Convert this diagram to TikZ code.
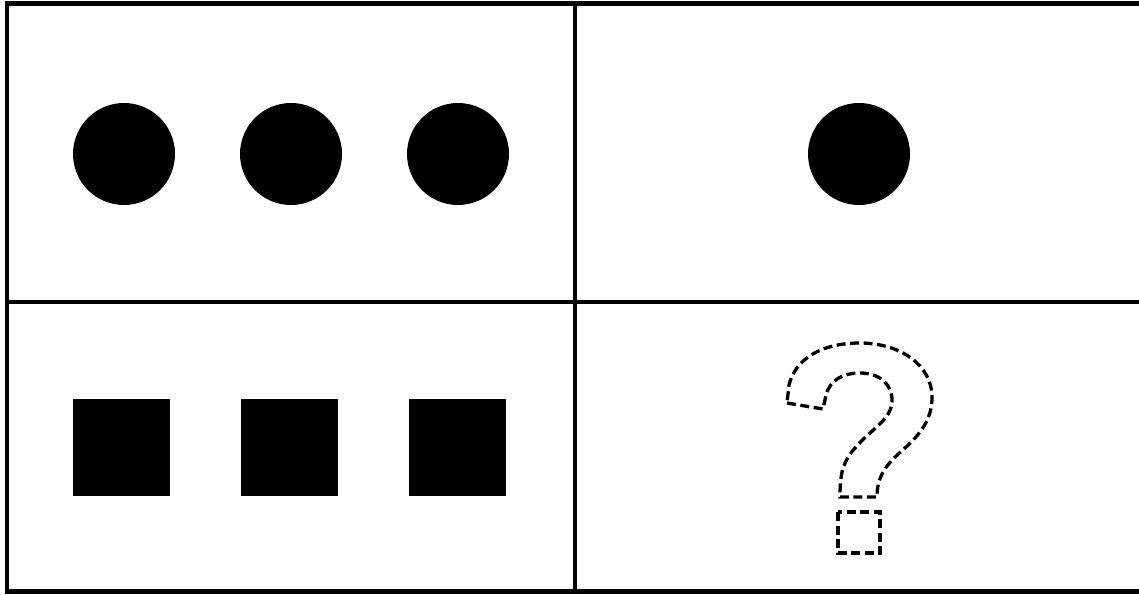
\documentclass[tikz,border=0pt]{standalone}
\begin{document}
\begin{tikzpicture}[x=1pt,y=-1pt,
  frame/.style={line width=4.8pt,black},
  dot/.style={circle,fill=black,minimum size=102pt,inner sep=0pt},
  sq/.style={rectangle,fill=black,minimum size=97pt,inner sep=0pt},
  qline/.style={line width=3.3pt,dash pattern=on 9pt off 4.5pt,black,line join=miter}]
\useasboundingbox (0,0) rectangle (1139,594);
\fill[white] (0,0) rectangle (1139,594);
% frame
\coordinate (tl) at (7,3.5);
\coordinate (tr) at (1141,3.5);
\coordinate (bl) at (7,591.5);
\coordinate (br) at (1141,591.5);
\coordinate (vt) at (575,3.5);
\coordinate (vb) at (575,591.5);
\coordinate (hl) at (7,302);
\coordinate (hr) at (1141,302);
\draw[frame] (tr) -- (tl) -- (bl) -- (br);
\draw[frame] (vt) -- (vb);
\draw[frame] (hl) -- (hr);
% circles
\node[dot] (c1) at (124,154) {};
\node[dot] (c2) at (291,154) {};
\node[dot] (c3) at (458,154) {};
\node[dot] (c4) at (859,154) {};
% squares
\node[sq] (s1) at (121.5,447) {};
\node[sq] (s2) at (289.5,447) {};
\node[sq] (s3) at (457.5,447) {};
% question mark
\draw[qline] (787,403) -- (823,409) -- (826,395)
  .. controls (830,380) and (843,373) .. (860,373)
  .. controls (880,373) and (893,385) .. (892,402)
  .. controls (891,420) and (870,430) .. (855,448)
  .. controls (843,462) and (840,472) .. (840,497)
  -- (877,497)
  .. controls (877,477) and (885,465) .. (905,448)
  .. controls (925,430) and (932,415) .. (932,397)
  .. controls (932,365) and (900,343) .. (860,343)
  .. controls (820,343) and (795,360) .. (789,385) -- cycle;
\draw[qline] (838,512) rectangle (880,553);
\end{tikzpicture}
\end{document}
